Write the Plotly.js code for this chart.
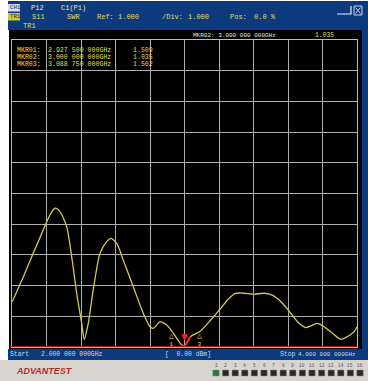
<!DOCTYPE html>
<html>
<head>
<meta charset="utf-8">
<script src="https://cdn.plot.ly/plotly-3.0.1.min.js"></script>
<style>html,body{margin:0;padding:0;background:#fff;}#chart{width:368px;height:381px;}</style>
</head>
<body>
<div id="chart"></div>
<script>
// ---- data ----
const freqGHz = [2.002, 2.066, 2.123, 2.181, 2.220, 2.249, 2.278, 2.317, 2.346, 2.375, 2.404, 2.419, 2.442, 2.471, 2.510, 2.549, 2.574, 2.607, 2.645, 2.703, 2.761, 2.800, 2.819, 2.858, 2.897, 2.9275, 2.984, 3.000, 3.036, 3.08875, 3.152, 3.210, 3.258, 3.297, 3.345, 3.403, 3.461, 3.509, 3.558, 3.616, 3.664, 3.703, 3.732, 3.770, 3.809, 3.858, 3.906, 3.945, 3.983, 4.000];
const swr = [2.48, 3.29, 4.05, 4.81, 5.30, 5.52, 5.41, 4.92, 3.94, 2.75, 1.77, 1.25, 1.77, 2.86, 4.05, 4.43, 4.54, 4.38, 3.83, 2.96, 2.10, 1.66, 1.61, 1.82, 1.72, 1.509, 1.065, 1.035, 1.34, 1.502, 1.88, 2.26, 2.59, 2.75, 2.75, 2.72, 2.75, 2.69, 2.48, 2.10, 1.77, 1.63, 1.69, 1.77, 1.66, 1.45, 1.25, 1.34, 1.50, 1.66];
const mkrNames = ['MKR01:', 'MKR02:', 'MKR03:'];
const mkrFreq = [2.9275, 3.0, 3.08875];
const mkrFreqText = ['2.927 500 000GHz', '3.000 000 000GHz', '3.088 750 000GHz'];
const mkrValue = [1.509, 1.035, 1.502];
const mkrNum = ['1', '2', '3'];
const activeMkr = 1;
const startText = '2.000 000 000GHz';
const stopText = '4.000 000 000GHz';
const powerText = '[  0.00 dBm]';
const buttonLabels = ['1','2','3','4','5','6','7','8','9','10','11','12','13','14','15','16'];
const refVal = 1.0, divVal = 1.0, nDiv = 10;

// ---- helpers: pixel -> paper coords (plot area 12..357 x, 40..347 y) ----
const PL = 12, PR = 357, PT = 40, PB = 347;
const px = x => (x - PL) / (PR - PL);
const py = y => (PB - y) / (PB - PT);
const FONT = 'Liberation Mono, DejaVu Sans Mono, monospace';
const YEL = '#e2de5a';

const shapes = [];
const rect = (x0, y0, x1, y1, color) => shapes.push({type: 'rect', xref: 'paper', yref: 'paper', x0: px(x0), x1: px(x1), y0: py(y1), y1: py(y0), fillcolor: color, line: {width: 0}, layer: 'below'});
rect(8, 1, 368, 30, '#0d3a7c');
rect(9, 30, 362, 349, '#000000');
rect(362, 30, 368, 360, '#0d3a7c');
rect(8, 349, 362, 360, '#0d3a7c');
rect(0, 360, 368, 381, '#d8d5cf');
rect(8, 4, 20, 11.5, '#d6d8e6');
rect(8, 13, 20, 20.5, '#c9c83e');
// window icons
shapes.push({type: 'path', xref: 'paper', yref: 'paper', path: `M ${px(337)} ${py(14)} L ${px(351)} ${py(14)} L ${px(351)} ${py(6)}`, line: {color: '#e8eef8', width: 1.2}, layer: 'above'});
shapes.push({type: 'rect', xref: 'paper', yref: 'paper', x0: px(354), x1: px(362), y0: py(15), y1: py(6), line: {color: '#c8d4ea', width: 1}, fillcolor: 'rgba(0,0,0,0)', layer: 'above'});
shapes.push({type: 'path', xref: 'paper', yref: 'paper', path: `M ${px(355.5)} ${py(7.5)} L ${px(360.5)} ${py(13.5)} M ${px(360.5)} ${py(7.5)} L ${px(355.5)} ${py(13.5)}`, line: {color: '#c8d4ea', width: 1}, layer: 'above'});
// reference (red) line at the bottom
shapes.push({type: 'line', xref: 'paper', yref: 'y', x0: px(10), x1: 1, y0: refVal, y1: refVal, line: {color: '#b00a0a', width: 2}, layer: 'above'});

const ann = [];
const txt = (x, y, text, color, size, extra) => ann.push(Object.assign({xref: 'paper', yref: 'paper', x: px(x), y: py(y), xanchor: 'left', yanchor: 'middle', text: text, showarrow: false, font: {family: FONT, size: size || 7, color: color}}, extra || {}));

// header
txt(8.3, 8, 'CH1', '#14285a', 5.8);
txt(29, 8, 'P12', '#ece8c0', 7);
txt(59, 8, 'C1(P1)', '#ece8c0', 7);
txt(8.3, 17, 'TR1', '#2a2a10', 5.8);
txt(30, 17, 'S11', YEL, 7);
txt(65, 17, 'SWR', YEL, 7);
txt(95, 17, 'Ref:', YEL, 7);
txt(116, 17, refVal.toFixed(3), YEL, 7);
txt(160, 17, '/Div:', YEL, 7);
txt(186, 17, divVal.toFixed(3), YEL, 7);
txt(228, 17, 'Pos:', YEL, 7);
txt(252, 17, '0.0 %', YEL, 7);
txt(21, 26, 'TR1', YEL, 7);
// active marker readout
txt(191, 35, mkrNames[activeMkr] + ' ' + mkrFreqText[activeMkr], '#e8e8d8', 6);
txt(313, 35, mkrValue[activeMkr].toFixed(3), YEL, 6.4);
// marker table
mkrNames.forEach((n, i) => {
  const y = 50 + i * 7;
  txt(15, y, n, YEL, 6.6);
  txt(46, y, mkrFreqText[i], YEL, 6.6);
  txt(131, y, mkrValue[i].toFixed(3), YEL, 6.6);
});
// marker symbols
mkrFreq.forEach((f, i) => {
  if (i === activeMkr) {
    ann.push({xref: 'x', yref: 'y', x: f, y: mkrValue[i], yshift: 9, text: '▼', showarrow: false, font: {family: 'DejaVu Sans', size: 9, color: '#ff1a1a'}});
  } else {
    ann.push({xref: 'x', yref: 'y', x: f, y: mkrValue[i], yshift: -8, yanchor: 'middle', text: '<span style="font-size:8px">△</span><br>' + mkrNum[i], showarrow: false, font: {family: FONT, size: 6, color: YEL}});
  }
});
// status bar
txt(8, 354.5, 'Start', '#c8d8f0', 6.4);
txt(39, 354.5, startText, '#c8d8f0', 6.4);
txt(163, 354.5, powerText, '#c8d8f0', 6.4);
txt(278, 354.5, 'Stop', '#c8d8f0', 6.4);
txt(358, 354.5, stopText, '#c8d8f0', 6, {xanchor: 'right'});
// brand
txt(14, 371, '<b><i>ADVANTEST</i></b>', '#b8282a', 9, {font: {family: 'Liberation Sans, Arial', size: 9, color: '#b8282a'}});
// buttons
buttonLabels.forEach((b, i) => {
  const cx = 216 + i * 9.6;
  txt(cx, 365, b, '#555', 4.5, {xanchor: 'center'});
  shapes.push({type: 'rect', xref: 'paper', yref: 'paper', x0: px(cx - 3.2), x1: px(cx + 3.2), y0: py(376), y1: py(370), fillcolor: i === 0 ? '#2e7a3a' : '#2a2a2a', line: {color: '#888', width: 0.5}, layer: 'above'});
});

// trace near the active marker drawn in red
const redX = [], redY = [];
freqGHz.forEach((f, i) => { if (Math.abs(f - mkrFreq[activeMkr]) < 0.045) { redX.push(f); redY.push(swr[i]); } });

const traces = [
  {x: freqGHz, y: swr, type: 'scatter', mode: 'lines', line: {color: '#d2cc52', width: 1.3, shape: 'spline', smoothing: 0.7}, hoverinfo: 'skip'},
  {x: redX, y: redY, type: 'scatter', mode: 'lines', line: {color: '#ff2020', width: 1.5, shape: 'spline', smoothing: 0.7}, hoverinfo: 'skip'}
];

const layout = {
  width: 368, height: 381,
  margin: {l: PL, r: 368 - PR, t: PT, b: 381 - PB, pad: 0},
  paper_bgcolor: '#ffffff', plot_bgcolor: '#000000',
  showlegend: false,
  xaxis: {range: [2, 4], dtick: 0.2, tick0: 2, showticklabels: false, ticks: '', showgrid: true, gridcolor: '#aeaeae', gridwidth: 1, zeroline: false, showline: true, mirror: true, linecolor: '#bcbcbc', linewidth: 1, fixedrange: true},
  yaxis: {range: [refVal, refVal + nDiv * divVal], dtick: divVal, tick0: refVal, showticklabels: false, ticks: '', showgrid: true, gridcolor: '#aeaeae', gridwidth: 1, zeroline: false, showline: true, mirror: true, linecolor: '#bcbcbc', linewidth: 1, fixedrange: true},
  shapes: shapes,
  annotations: ann
};
Plotly.newPlot('chart', traces, layout, {displayModeBar: false, staticPlot: true});
</script>
</body>
</html>
